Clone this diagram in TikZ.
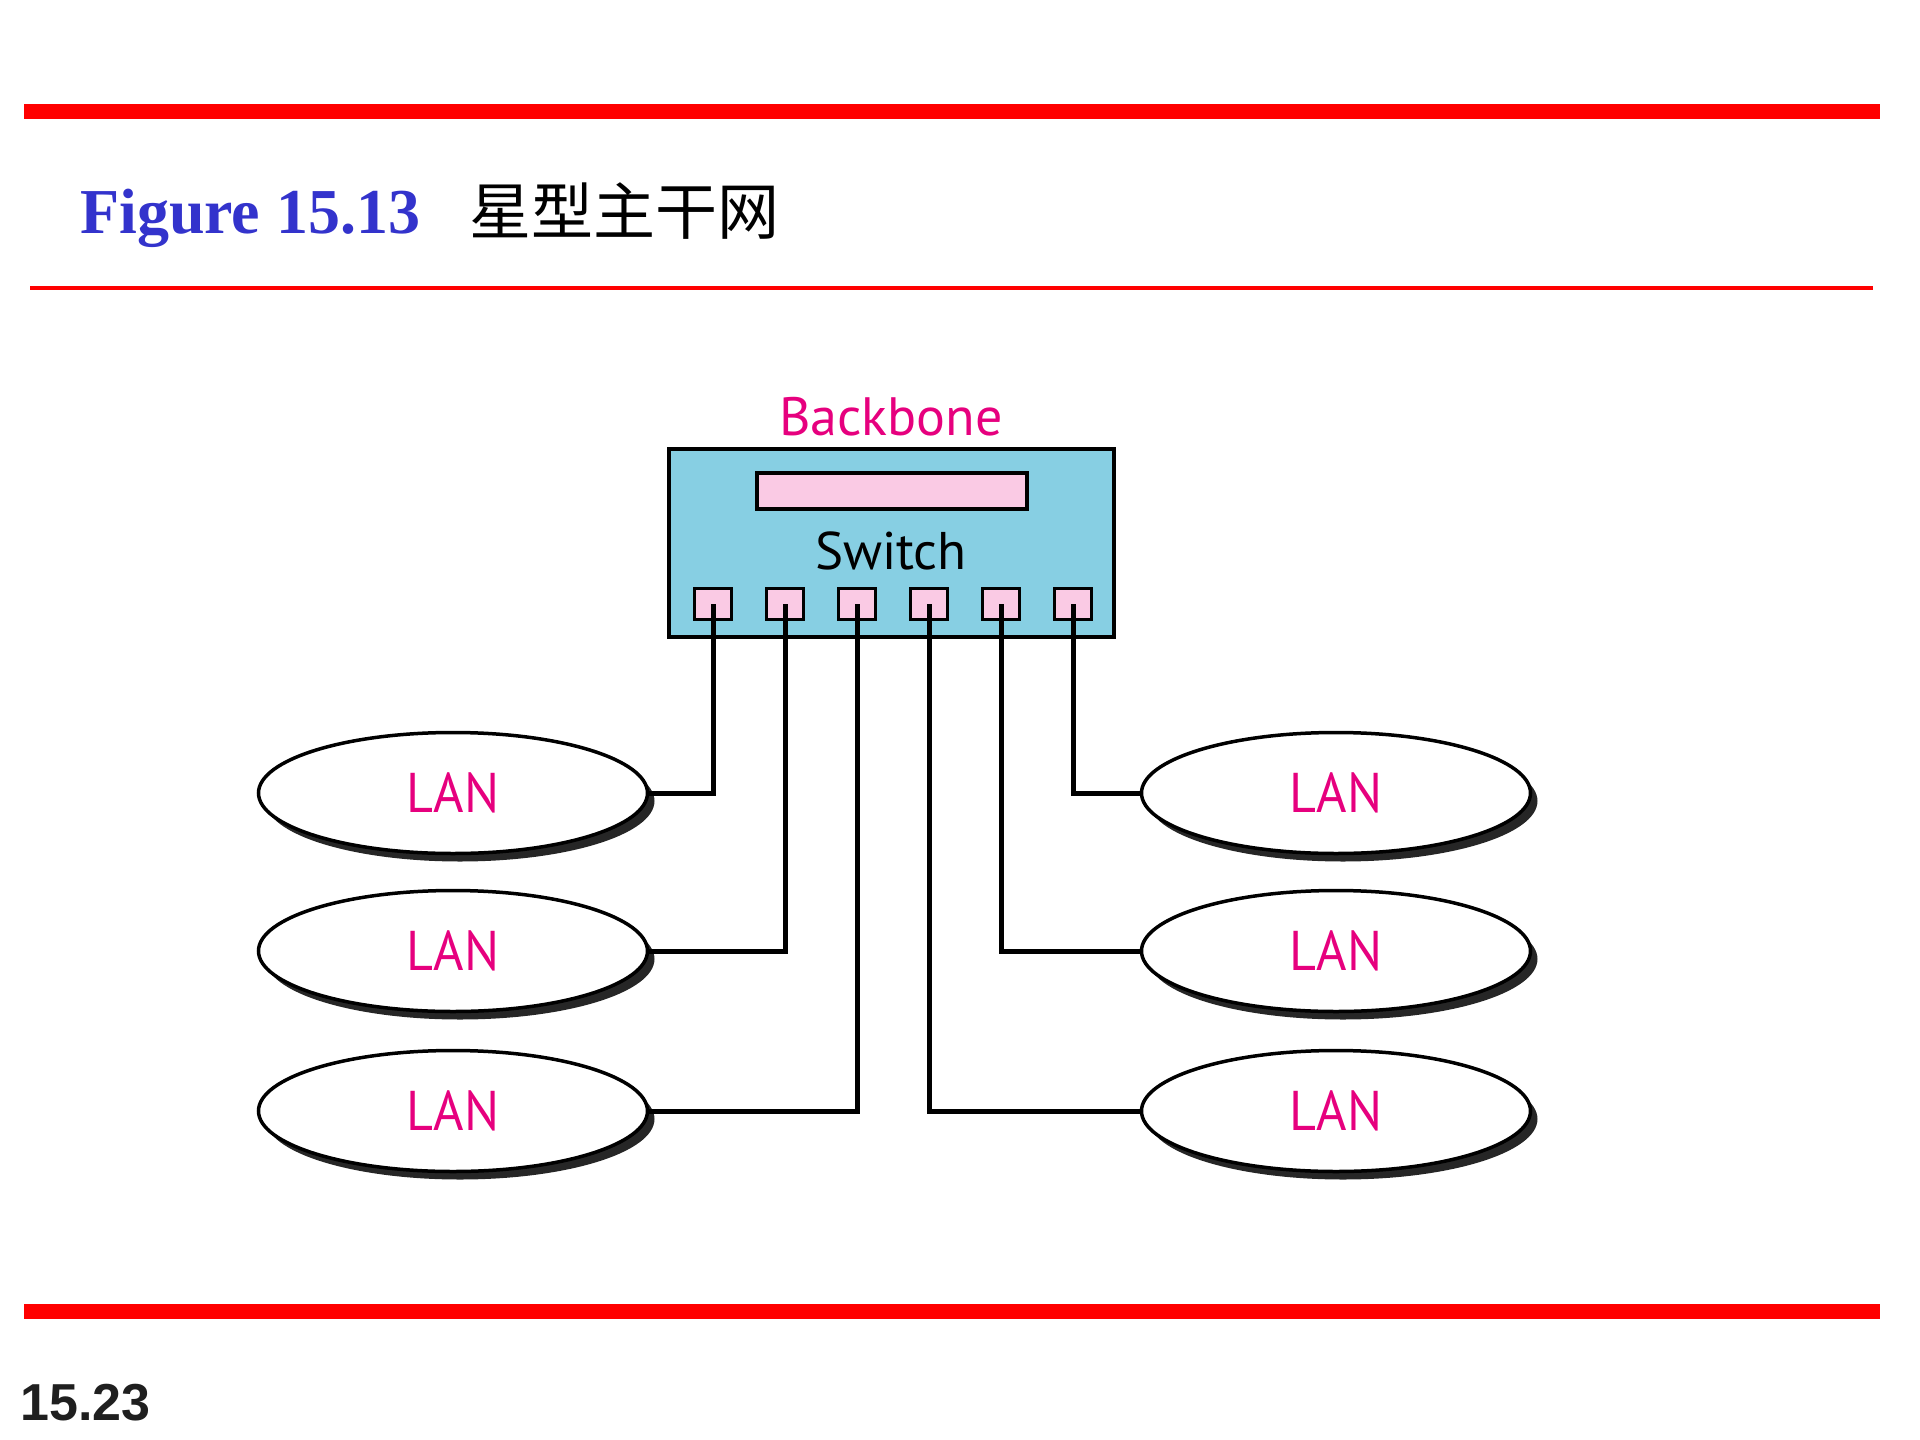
\documentclass[tikz,border=0pt]{standalone}
\usepackage{fontspec}
\setmainfont{PT Sans}
\newfontfamily\cjk{Noto Sans CJK SC}
\newfontfamily\figfont{Liberation Serif}
\newfontfamily\lanfont[FakeStretch=0.93]{PT Sans}
\newfontfamily\pagefont{Liberation Sans}
\usetikzlibrary{positioning,shapes.geometric,shadows}
\definecolor{barred}{RGB}{255,0,0}
\definecolor{figblue}{RGB}{51,51,204}
\definecolor{lanpink}{RGB}{230,0,126}
\definecolor{switchblue}{RGB}{135,207,227}
\definecolor{portpink}{RGB}{250,202,228}
\begin{document}
\begin{tikzpicture}[x=1pt,y=-1pt]
	\tikzstyle{lan} = [ellipse,draw,line width=3.5pt,fill=white,minimum width=389pt,minimum height=121pt,inner sep=0pt,text=lanpink,font=\lanfont\fontsize{56}{56}\selectfont,drop shadow={shadow xshift=7pt,shadow yshift=-8pt,fill=black!85,opacity=1}]
	\tikzstyle{port} = [rectangle,draw,line width=3.5pt,fill=portpink,minimum width=37pt,minimum height=31pt,inner sep=0pt]
	\tikzstyle{link} = [line width=5pt]
	\useasboundingbox (0,0) rectangle (1920,1440);
		
		\fill[barred] (24,104) rectangle (1880,119);
		\draw[barred,line width=3.5pt] (30,288) -- (1873,288);
		\fill[barred] (24,1304) rectangle (1880,1319);
		
		\node[anchor=base west,inner sep=0pt,text=figblue,font=\figfont\bfseries\fontsize{64}{64}\selectfont] (fig) at (80,233){Figure 15.13};
		\node[anchor=base west,inner sep=0pt,font=\cjk\fontsize{62}{62}\selectfont] (title) at (469,234){星型主干网};
		\node[anchor=base west,inner sep=0pt,text=black!88,font=\pagefont\bfseries\fontsize{52}{52}\selectfont] (page) at (20,1420){15.23};
		
		\node[rectangle,draw,line width=3.5pt,fill=switchblue,minimum width=445pt,minimum height=188pt,inner sep=0pt] (sw) at (891.5,543){};
		\node[rectangle,draw,line width=3.5pt,fill=portpink,minimum width=270pt,minimum height=36pt,inner sep=0pt] (bar) at (892,491){};
		\node[anchor=base,inner sep=0pt,font=\fontsize{53}{53}\selectfont] (swname) at (891,569){Switch};
		\node[anchor=base,inner sep=0pt,text=lanpink,font=\fontsize{54}{54}\selectfont] (backbone) at (891,435){Backbone};
		
		\node[port] (p1) at (713,604){};
		\node[port,anchor=west](p2) at ([xshift=31.5pt]p1.east){};
		\node[port,anchor=west](p3) at ([xshift=31.5pt]p2.east){};
		\node[port,anchor=west](p4) at ([xshift=31.5pt]p3.east){};
		\node[port,anchor=west](p5) at ([xshift=31.5pt]p4.east){};
		\node[port,anchor=west](p6) at ([xshift=31.5pt]p5.east){};
		
		\node[lan] (l1) at (453,793){LAN};
		\node[lan] (l2) at ([yshift=-158pt]l1.center){LAN};
		\node[lan] (l3) at ([yshift=-160pt]l2.center){LAN};
		\node[lan] (r1) at (1336,793){LAN};
		\node[lan] (r2) at ([yshift=-158pt]r1.center){LAN};
		\node[lan] (r3) at ([yshift=-160pt]r2.center){LAN};
		
		\draw[link] (l1.east) -| (p1.center);
		\draw[link] (l2.east) -| (p2.center);
		\draw[link] (l3.east) -| (p3.center);
		\draw[link] (r3.west) -| (p4.center);
		\draw[link] (r2.west) -| (p5.center);
		\draw[link] (r1.west) -| (p6.center);
		
\end{tikzpicture}
\end{document}
